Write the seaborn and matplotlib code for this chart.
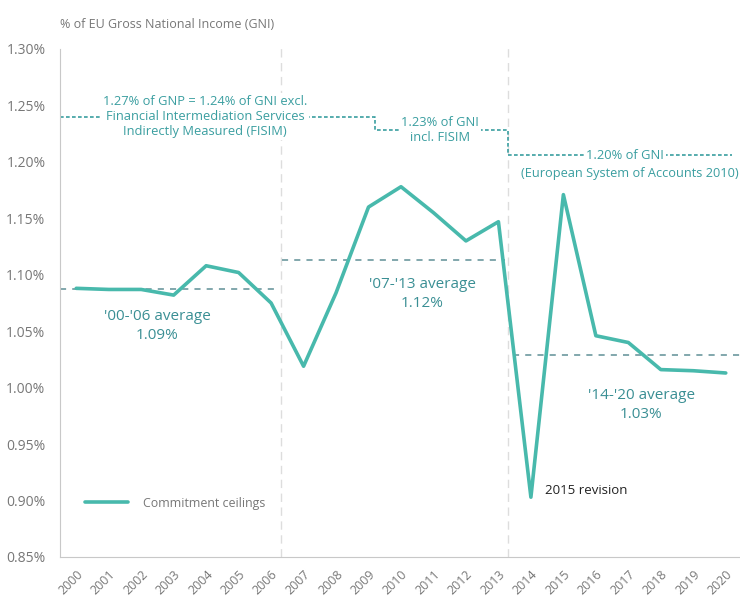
import numpy as np
import matplotlib.pyplot as plt
import seaborn as sns
from matplotlib.ticker import FuncFormatter

# data
years = [str(y) for y in range(2000, 2021)]
ceilings = [1.088, 1.087, 1.087, 1.082, 1.108, 1.102, 1.075, 1.019, 1.084, 1.160, 1.178,
            1.155, 1.130, 1.147, 0.903, 1.171, 1.046, 1.040, 1.016, 1.015, 1.013]
avg_labels = ["'00-'06 average\n1.09%", "'07-'13 average\n1.12%", "'14-'20 average\n1.03%"]
avg_values = [1.087, 1.113, 1.029]
avg_spans = [(-0.5, 6.2), (6.35, 13.2), (13.45, 20.5)]
ceiling_x = [-0.5, 9.2, 13.3, 20.2]
ceiling_y = [1.24, 1.228, 1.206, 1.206]
periods = [6.3, 13.3]

teal = "#48b9ac"
teal_txt = "#3a9ea0"
avg_col = "#5f8f96"
grey = "#777777"

sns.set_style("white")
plt.rcParams['font.family'] = ['Open Sans', 'DejaVu Sans']

fig = plt.figure(figsize=(7.4, 5.97), dpi=100)
ax = fig.add_axes([60 / 740, 40 / 597, 682 / 740, 508 / 597])

# period separators
for p in periods:
    ax.axvline(p, ymax=1.01, color="#dddddd", lw=1, ls=(0, (6, 4)), zorder=1, clip_on=False)

# period averages
for (x0, x1), v in zip(avg_spans, avg_values):
    ax.plot([x0, x1], [v, v], color=avg_col, lw=1.1, ls=(0, (4, 4)), zorder=2)

# own resources ceiling (step line)
ax.plot(ceiling_x, ceiling_y, drawstyle="steps-post", color=teal_txt, lw=1.2,
        ls=(0, (2.2, 1.4)), zorder=2)

sns.lineplot(x=np.arange(len(years)), y=ceilings, color=teal, linewidth=2.6,
             label="Commitment ceilings", ax=ax, zorder=3)

box = dict(facecolor="white", edgecolor="none", pad=1.5)
ax.text(3.97, 1.240, "1.27% of GNP = 1.24% of GNI excl.\nFinancial Intermediation Services\nIndirectly Measured (FISIM)",
        ha="center", va="center", fontsize=9.3, color=teal_txt, linespacing=1.2, bbox=box, zorder=4)
ax.text(11.2, 1.228, "1.23% of GNI\nincl. FISIM", ha="center", va="center", fontsize=9.3,
        color=teal_txt, linespacing=1.2, bbox=box, zorder=4)
ax.text(16.9, 1.206, "1.20% of GNI", ha="center", va="center", fontsize=9.3,
        color=teal_txt, bbox=box, zorder=4)
ax.text(17.05, 1.190, "(European System of Accounts 2010)", ha="center", va="center",
        fontsize=9.2, color=teal_txt, zorder=4)

avg_pos = [(2.5, 1.055), (10.65, 1.083), (17.4, 0.985)]
for (x, y), lab in zip(avg_pos, avg_labels):
    ax.text(x, y, lab, ha="center", va="center", fontsize=11, color="#3a8f94",
            linespacing=1.35, zorder=4)

ax.text(14.43, 0.909, "2015 revision", ha="left", va="center", fontsize=9.5, color="#222222")

fig.text(60 / 740, 1 - 24 / 597, "% of EU Gross National Income (GNI)", ha="left", va="center",
         fontsize=9, color=grey)

ax.set_xlim(-0.5, 20.5)
ax.set_ylim(0.85, 1.30)
ax.set_yticks(np.arange(0.85, 1.301, 0.05))
ax.yaxis.set_major_formatter(FuncFormatter(lambda v, _: f"{v:.2f}%"))
ax.set_xticks(np.arange(len(years)))
ax.set_xticklabels(years, rotation=45, ha="right", rotation_mode="anchor")
ax.set_xticks(np.arange(-0.5, 21, 1), minor=True)
ax.tick_params(axis="x", which="major", length=0, pad=8, labelsize=9, labelcolor=grey)
ax.tick_params(axis="x", which="minor", length=8, direction="inout", color="#c8c8c8")
ax.tick_params(axis="y", length=5, direction="inout", color="#c8c8c8", labelsize=10,
               labelcolor=grey, pad=8)
ax.set_xlabel("")
ax.set_ylabel("")

for s in ["top", "right"]:
    ax.spines[s].set_visible(False)
for s in ["left", "bottom"]:
    ax.spines[s].set_color("#c8c8c8")

leg = ax.legend(loc="center left", bbox_to_anchor=(0.02, 0.106), frameon=False,
                fontsize=8.9, handlelength=3.5, handletextpad=1.2)
for t in leg.get_texts():
    t.set_color(grey)

fig.savefig("out.png", dpi=100)
